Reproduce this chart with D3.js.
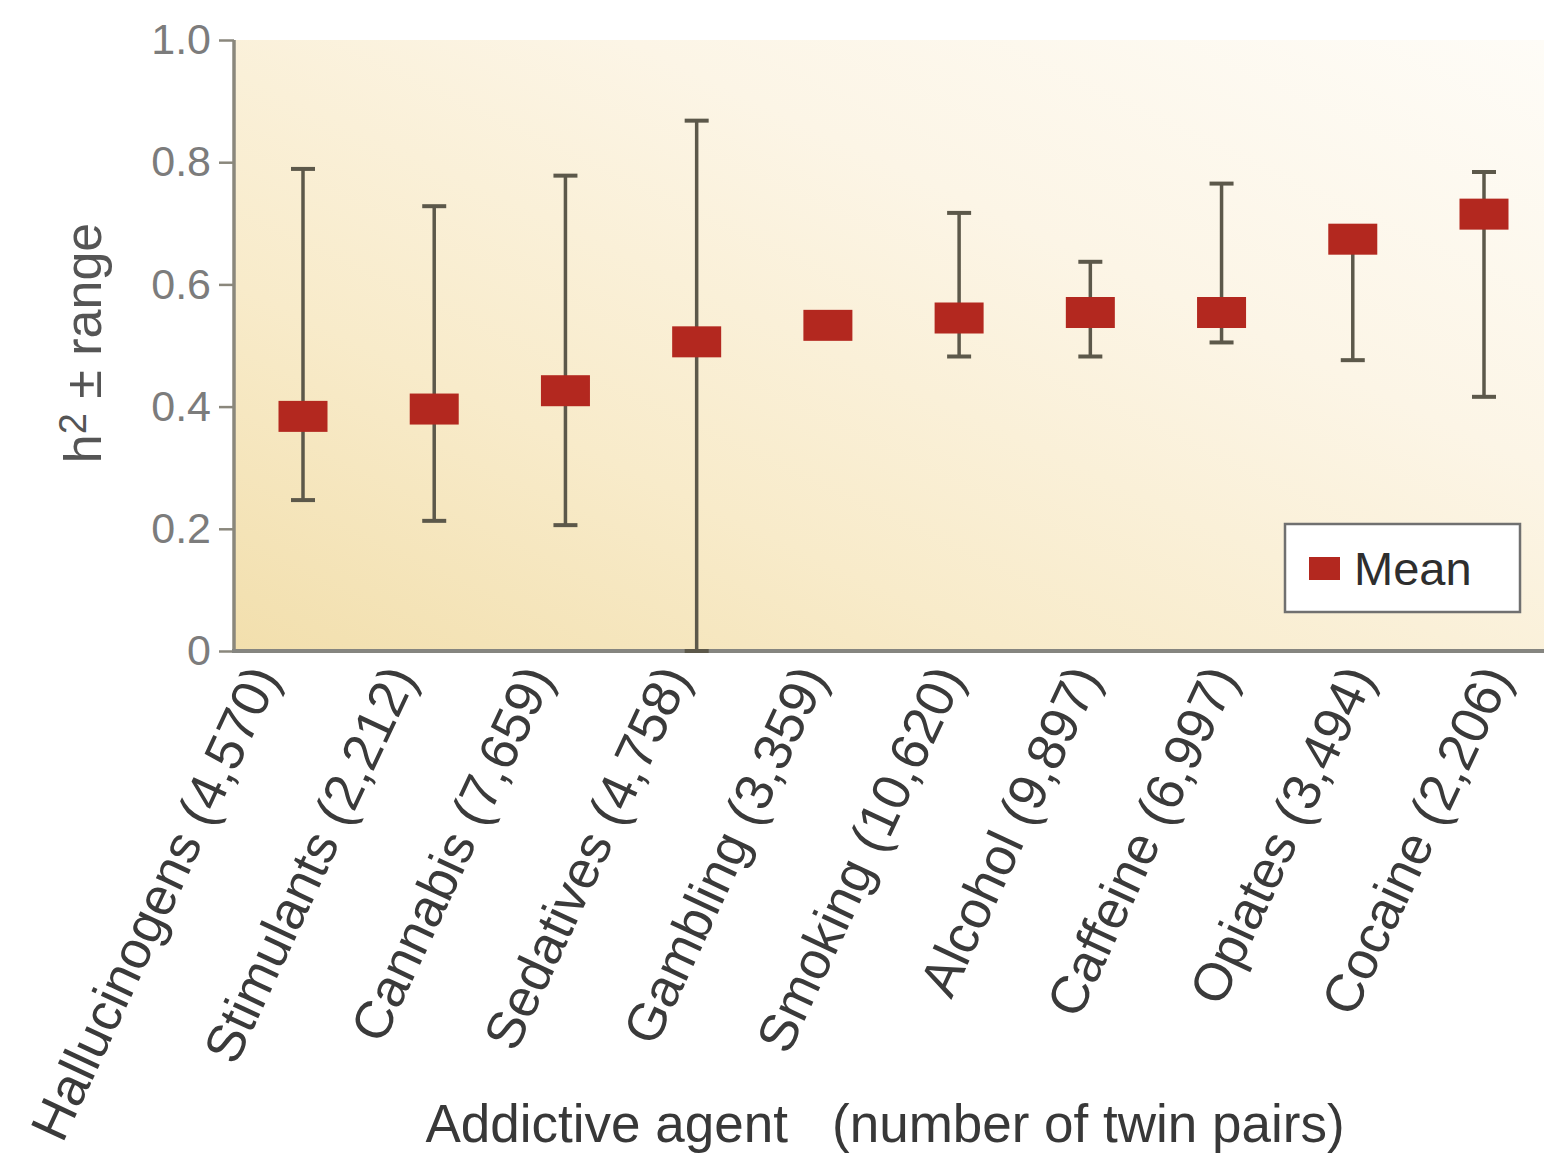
<!DOCTYPE html>
<html>
<head>
<meta charset="utf-8">
<script src="https://cdn.jsdelivr.net/npm/d3@7"></script>
<style>
  html, body { margin: 0; padding: 0; background: #ffffff; }
  svg { display: block; }
  text { font-family: "Liberation Sans", Arial, Helvetica, sans-serif; }
</style>
</head>
<body>
<svg id="chart" width="1544" height="1175"></svg>
<script>
// ---- data ----
const categories = [
  "Hallucinogens (4,570)", "Stimulants (2,212)", "Cannabis (7,659)",
  "Sedatives (4,758)", "Gambling (3,359)", "Smoking (10,620)",
  "Alcohol (9,897)", "Caffeine (6,997)", "Opiates (3,494)", "Cocaine (2,206)"
];
const means = [0.384, 0.396, 0.426, 0.506, 0.533, 0.545, 0.554, 0.554, 0.674, 0.715];
const lows  = [0.247, 0.213, 0.206, 0.000, null, 0.482, 0.482, 0.505, 0.476, 0.416];
const highs = [0.789, 0.728, 0.778, 0.868, null, 0.717, 0.637, 0.765, 0.690, 0.784];
const yTickValues = [0, 0.2, 0.4, 0.6, 0.8, 1.0];
const yTickLabels = ["0", "0.2", "0.4", "0.6", "0.8", "1.0"];
const yTitle = "h";
const yTitleSup = "2";
const yTitleRest = " \u00B1 range";
const xTitle = "Addictive agent   (number of twin pairs)";
const legendLabel = "Mean";

// ---- layout ----
const svg = d3.select("#chart");
const plot = { left: 234, right: 1544, top: 40, bottom: 651 };

const x = d3.scalePoint().domain(categories).range([303, 1484]);
const xLabel = d3.scalePoint().domain(categories).range([294, 1526]);
const y = d3.scaleLinear().domain([0, 1]).range([plot.bottom, plot.top]);

// background gradient
const defs = svg.append("defs");
const grad = defs.append("linearGradient").attr("id", "bg")
  .attr("x1", "0").attr("y1", "1").attr("x2", "1").attr("y2", "0");
grad.append("stop").attr("offset", "0").attr("stop-color", "#f2dfad");
grad.append("stop").attr("offset", "0.3").attr("stop-color", "#f8ebca");
grad.append("stop").attr("offset", "0.65").attr("stop-color", "#fcf5e6");
grad.append("stop").attr("offset", "1").attr("stop-color", "#fefcf7");

svg.append("rect")
  .attr("x", plot.left).attr("y", plot.top)
  .attr("width", plot.right - plot.left).attr("height", plot.bottom - plot.top)
  .attr("fill", "url(#bg)");

// y axis
const yAxis = d3.axisLeft(y)
  .tickValues(yTickValues)
  .tickFormat((d, i) => yTickLabels[i])
  .tickSize(15).tickPadding(8);
const gy = svg.append("g").attr("transform", `translate(${plot.left},0)`).call(yAxis);
gy.select(".domain").attr("stroke", "#8a877c").attr("stroke-width", 3.5).attr("d", `M0,${plot.top}V${plot.bottom}`);
gy.selectAll(".tick line").attr("stroke", "#8a877c").attr("stroke-width", 2.5);
gy.selectAll(".tick text")
  .attr("fill", "#7c7c7c").attr("font-size", 43)
  .style("font-family", "'Liberation Sans', Arial, sans-serif");

// x axis (labels only)
const xAxis = d3.axisBottom(xLabel).tickSize(0).tickPadding(0);
const gx = svg.append("g").attr("transform", `translate(0,${plot.bottom})`).call(xAxis);
gx.select(".domain").remove();
gx.selectAll(".tick text")
  .attr("fill", "#3a3a3a").attr("font-size", 53)
  .attr("text-anchor", "end")
  .attr("dy", "0")
  .attr("y", 0)
  .attr("transform", "translate(-14,26) rotate(-65)")
  .style("font-family", "'Liberation Sans', Arial, sans-serif");

svg.append("line")
  .attr("x1", plot.left - 2).attr("x2", plot.right)
  .attr("y1", plot.bottom).attr("y2", plot.bottom)
  .attr("stroke", "#858580").attr("stroke-width", 4);

// error bars
const capW = 24;
const eb = svg.append("g");
categories.forEach((c, i) => {
  if (lows[i] == null || highs[i] == null) return;
  const cx = x(c);
  eb.append("line").attr("x1", cx).attr("x2", cx)
    .attr("y1", y(highs[i])).attr("y2", y(lows[i]))
    .attr("stroke", "#5c584a").attr("stroke-width", 3.5);
  [highs[i], lows[i]].forEach(v => {
    eb.append("line").attr("x1", cx - capW / 2).attr("x2", cx + capW / 2)
      .attr("y1", y(v)).attr("y2", y(v))
      .attr("stroke", "#5c584a").attr("stroke-width", 4);
  });
});

// mean markers
const mW = 49, mH = 31;
svg.append("g").selectAll("rect").data(categories).join("rect")
  .attr("x", d => x(d) - mW / 2)
  .attr("y", (d, i) => y(means[i]) - mH / 2)
  .attr("width", mW).attr("height", mH)
  .attr("fill", "#b3281f");

// legend
const lg = svg.append("g");
lg.append("rect").attr("x", 1285).attr("y", 524).attr("width", 235).attr("height", 88)
  .attr("fill", "#ffffff").attr("stroke", "#707070").attr("stroke-width", 2.5);
lg.append("rect").attr("x", 1309).attr("y", 557).attr("width", 31).attr("height", 23)
  .attr("fill", "#b3281f");
lg.append("text").attr("x", 1354).attr("y", 585)
  .attr("font-size", 47).attr("fill", "#2e2e2e").text(legendLabel);

// y title
const yt = svg.append("text")
  .attr("transform", "translate(101,343) rotate(-90)")
  .attr("text-anchor", "middle")
  .attr("font-size", 52).attr("fill", "#555555");
yt.append("tspan").text(yTitle);
yt.append("tspan").attr("font-size", 38).attr("dy", -15).text(yTitleSup);
yt.append("tspan").attr("dy", 15).text(yTitleRest);

// x title
svg.append("text")
  .attr("x", 885).attr("y", 1142)
  .attr("text-anchor", "middle")
  .attr("font-size", 53).attr("fill", "#383838")
  .style("white-space", "pre")
  .text(xTitle);
</script>
</body>
</html>
